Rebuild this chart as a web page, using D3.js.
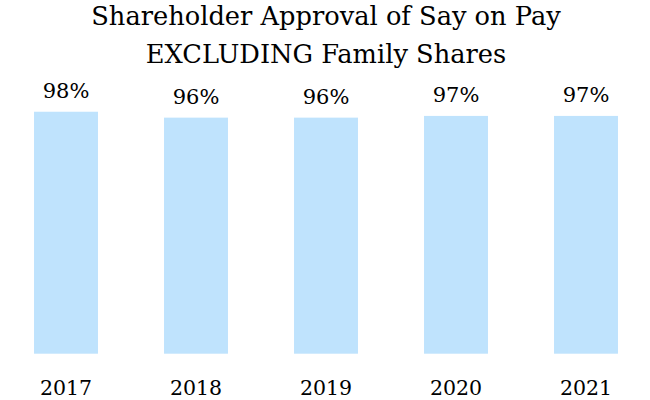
<!DOCTYPE html>
<html>
<head>
<meta charset="utf-8">
<script src="https://cdn.jsdelivr.net/npm/d3@7"></script>
<style>
  html, body { margin: 0; padding: 0; background: #ffffff; }
  svg { display: block; }
</style>
</head>
<body>
<svg id="chart" width="650" height="400"></svg>
<script>
const titleLines = ["Shareholder Approval of Say on Pay", "EXCLUDING Family Shares"];
const years = ["2017", "2018", "2019", "2020", "2021"];
const approval = [98.4, 96.0, 96.0, 96.7, 96.7];
const valueLabels = ["98%", "96%", "96%", "97%", "97%"];

const FONT = "'DejaVu Serif', serif";
const svg = d3.select("#chart");

const x = d3.scaleBand()
  .domain(years)
  .range([1, 651])
  .paddingInner(0.508)
  .paddingOuter(0.254);

const y = d3.scaleLinear()
  .domain([0, 100])
  .range([353.7, 107.8]);

// title
svg.append("g").selectAll("text")
  .data(titleLines)
  .join("text")
  .attr("x", 326)
  .attr("y", (d, i) => 25 + i * 38)
  .attr("text-anchor", "middle")
  .style("font-family", FONT)
  .style("font-size", "25.7px")
  .style("fill", "#000")
  .text(d => d);

// bars
svg.append("g").selectAll("rect")
  .data(years)
  .join("rect")
  .attr("x", d => x(d))
  .attr("y", (d, i) => y(approval[i]))
  .attr("width", x.bandwidth())
  .attr("height", (d, i) => y(0) - y(approval[i]))
  .attr("fill", "#bfe3fd");

// value labels
svg.append("g").selectAll("text")
  .data(years)
  .join("text")
  .attr("x", d => x(d) + x.bandwidth() / 2)
  .attr("y", (d, i) => y(approval[i]) - 14)
  .attr("text-anchor", "middle")
  .style("font-family", FONT)
  .style("font-size", "21px")
  .style("fill", "#000")
  .text((d, i) => valueLabels[i]);

// x axis labels
const xAxis = d3.axisBottom(x).tickSize(0).tickPadding(0);
const gx = svg.append("g")
  .attr("transform", `translate(0,${y(0)})`)
  .call(xAxis);
gx.select(".domain").remove();
gx.selectAll("text")
  .style("font-family", FONT)
  .style("font-size", "20.5px")
  .style("fill", "#000")
  .attr("dy", null)
  .attr("y", 41.5);
</script>
</body>
</html>
